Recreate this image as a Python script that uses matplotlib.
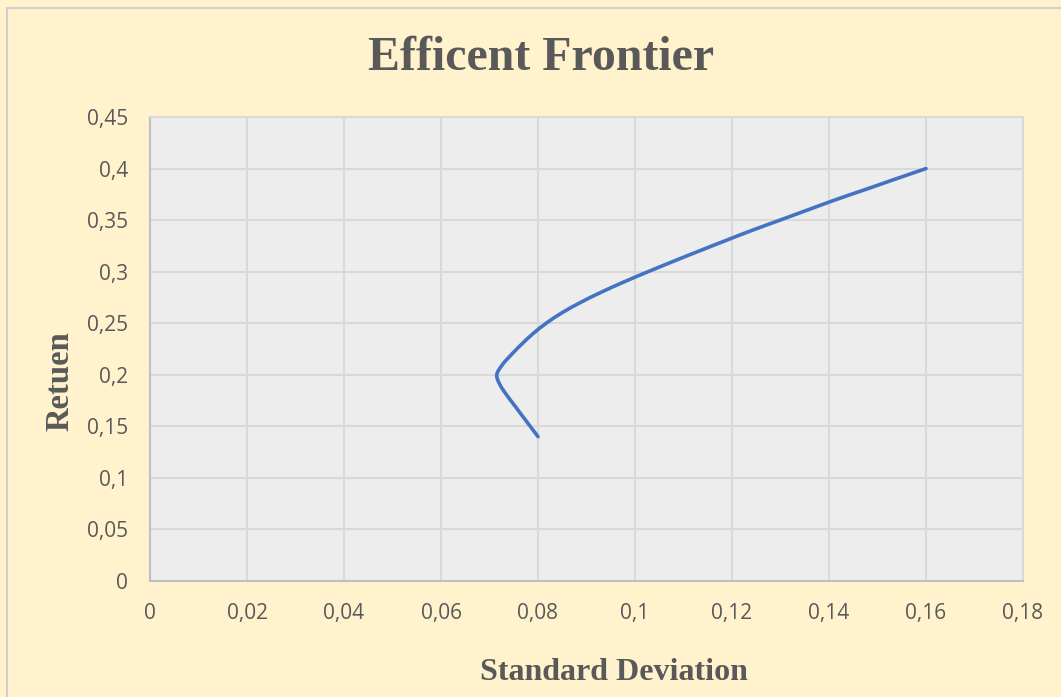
import matplotlib
matplotlib.use("Agg")
import matplotlib.pyplot as plt
from matplotlib.patches import Rectangle, PathPatch
from matplotlib.path import Path
from matplotlib.ticker import FuncFormatter

# Data
returns = [0.14, 0.15, 0.16, 0.17, 0.18, 0.19, 0.20, 0.21, 0.22, 0.23, 0.24,
           0.25, 0.26, 0.27, 0.28, 0.29, 0.30, 0.31, 0.32, 0.33, 0.34,
           0.35, 0.36, 0.37, 0.38, 0.39, 0.40]
std_dev = [0.0800, 0.0784, 0.0768, 0.0752, 0.0736, 0.0722, 0.0715, 0.0727, 0.0746, 0.0767, 0.0790,
           0.0817, 0.0849, 0.0887, 0.0930, 0.0977, 0.1027, 0.1079, 0.1132, 0.1186, 0.1241,
           0.1299, 0.1357, 0.1415, 0.1477, 0.1538, 0.1600]
x_ticks = [0, 0.02, 0.04, 0.06, 0.08, 0.10, 0.12, 0.14, 0.16, 0.18]
y_ticks = [0, 0.05, 0.10, 0.15, 0.20, 0.25, 0.30, 0.35, 0.40, 0.45]

W, H = 1061, 697
fig = plt.figure(figsize=(W / 100, H / 100), dpi=100)
fig.patch.set_facecolor("#FFF2CC")
fig.patches.append(Rectangle((7 / W, -0.01), 1.1, (H - 8) / H + 0.01, transform=fig.transFigure,
                             fill=False, edgecolor="#D0D0D0", linewidth=1.5))

ax = fig.add_axes([150 / W, 1 - 581 / H, (1023 - 150) / W, (581 - 117) / H])
ax.set_facecolor("#EDEDED")

# Smoothed line through the data points (Catmull-Rom as cubic Bezier segments)
pts = list(zip(std_dev, returns))
verts = [pts[0]]
codes = [Path.MOVETO]
n = len(pts)
t = 1.0 / 6.0
for i in range(n - 1):
    p0 = pts[i - 1] if i > 0 else pts[i]
    p1 = pts[i]
    p2 = pts[i + 1]
    p3 = pts[i + 2] if i + 2 < n else pts[i + 1]
    c1 = (p1[0] + (p2[0] - p0[0]) * t, p1[1] + (p2[1] - p0[1]) * t)
    c2 = (p2[0] - (p3[0] - p1[0]) * t, p2[1] - (p3[1] - p1[1]) * t)
    verts += [c1, c2, p2]
    codes += [Path.CURVE4] * 3
ax.add_patch(PathPatch(Path(verts, codes), facecolor="none", edgecolor="#4472C4",
                       linewidth=2.6, capstyle="round", joinstyle="round", zorder=3))
ax.plot(std_dev, returns, alpha=0)

ax.set_xlim(0, 0.18)
ax.set_ylim(0, 0.45)
ax.set_xticks(x_ticks)
ax.set_yticks(y_ticks)

def fmt(v, pos):
    s = f"{v:.2f}".rstrip("0").rstrip(".")
    return s.replace(".", ",")

ax.xaxis.set_major_formatter(FuncFormatter(fmt))
ax.yaxis.set_major_formatter(FuncFormatter(fmt))
ax.grid(True, color="#D9D9D9", linewidth=1.5, zorder=0)
ax.set_axisbelow(True)
for side, sp in ax.spines.items():
    sp.set_color("#D9D9D9")
    sp.set_linewidth(1.5)
ax.spines["left"].set_color("#BFBFBF")
ax.spines["bottom"].set_color("#BFBFBF")
ax.tick_params(length=0, labelsize=15, colors="#595959")
ax.tick_params(axis="x", pad=16)
ax.tick_params(axis="y", pad=16)
for lab in ax.get_xticklabels() + ax.get_yticklabels():
    lab.set_fontfamily("Open Sans")

fig.text(541 / W, 1 - 58 / H, "Efficent Frontier", ha="center", va="center",
         fontsize=34.5, fontweight="bold", family="Liberation Serif", color="#595959")
fig.text(614 / W, 1 - 672 / H, "Standard Deviation", ha="center", va="center",
         fontsize=23, fontweight="bold", family="Liberation Serif", color="#595959")
fig.text(60 / W, 1 - 381 / H, "Retuen", ha="center", va="center", rotation=90,
         fontsize=23.5, fontweight="bold", family="Liberation Serif", color="#595959")

fig.savefig("out.png", dpi=100, facecolor=fig.get_facecolor())
